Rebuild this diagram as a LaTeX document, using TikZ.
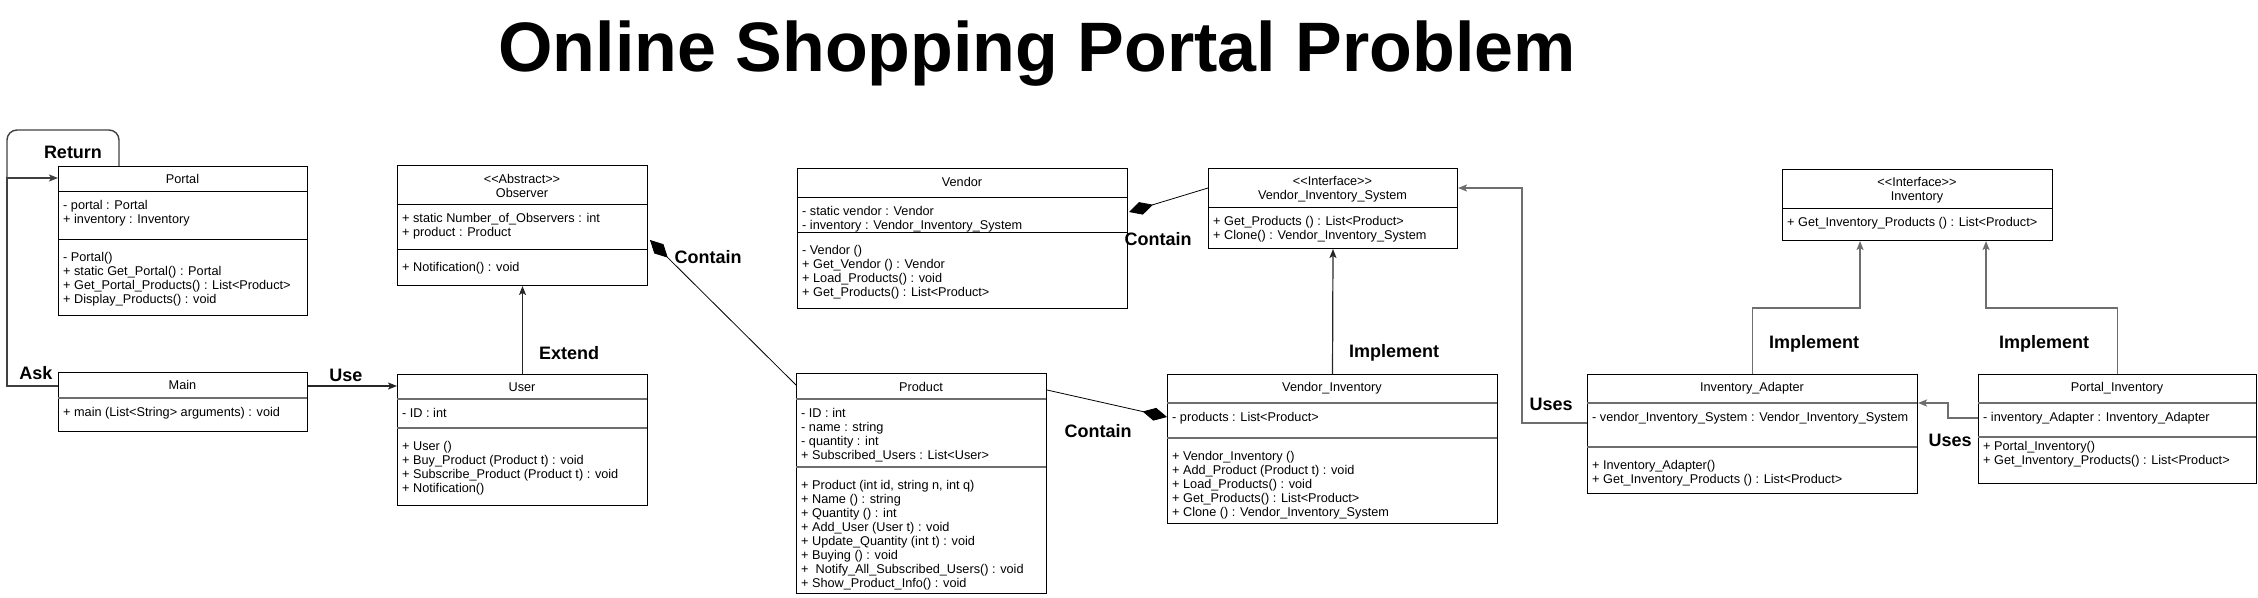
\documentclass[tikz,border=0pt]{standalone}
\usepackage{fontspec}
\setmainfont{Liberation Sans}
\usetikzlibrary{arrows.meta}
\definecolor{lgrey}{HTML}{6E6E6E}
\tikzset{
  box/.style={draw=black, line width=1pt, inner sep=0pt, anchor=north west},
  sepA/.style={draw=black, line width=1pt},
  sepB/.style={draw=lgrey, line width=1.8pt},
  hdr/.style={inner sep=0pt, align=center, font=\fontsize{12.7}{14}\selectfont},
  cmp/.style={inner sep=0pt, align=left, anchor=north west, font=\fontsize{12.7}{14}\selectfont},
  lbl/.style={inner sep=0pt, font=\bfseries\fontsize{18}{20}\selectfont},
  conn/.style={draw=black!85, line width=1.2pt, -{Stealth[length=9pt,width=7pt,inset=2pt]}},
  gconn/.style={draw=lgrey, line width=1.8pt, -{Stealth[length=9pt,width=7pt,inset=2pt]}},
  askline/.style={draw=black!75, line width=1.4pt},
  contain/.style={draw=black, line width=0.8pt, -{Diamond[length=25pt,width=13pt]}},
}
\newcommand{\UmlBox}[5]{\node[box, minimum width={#4-#2}, minimum height={#5-#3}] (#1) at (#2,#3) {};}
\begin{document}
\begin{tikzpicture}[x=1pt,y=-1pt]
\useasboundingbox (0,0) rectangle (2258,597);

% title
\node[inner sep=0pt, anchor=base, font=\bfseries\fontsize{70}{80}\selectfont] (title) at (1037,71) {Online Shopping Portal Problem};

% Portal
\UmlBox{portal}{58}{166}{307}{315}
\draw[sepA] (58,191) -- (307,191);
\draw[sepA] (58,239) -- (307,239);
\node[hdr] (portal-h) at (182.5,178.5) {Portal};
\node[cmp] (portal-a) at (63,199.7) {\strut- portal : Portal\\+ inventory : Inventory};
\node[cmp] (portal-m) at (63,251.7) {\strut- Portal()\\+ static Get\_Portal() : Portal\\+ Get\_Portal\_Products() : List<Product>\\+ Display\_Products() : void};

% Main
\UmlBox{main}{58}{372}{307}{431}
\draw[sepB] (58,398) -- (307,398);
\node[hdr] (main-h) at (182.5,385) {Main};
\node[cmp] (main-a) at (63,406.7) {\strut+ main (List<String> arguments) : void};

% Observer
\UmlBox{observer}{397}{165}{647}{285}
\draw[sepA] (397,204) -- (647,204);
\draw[sepA] (397,249) -- (647,249);
\node[hdr] (observer-h) at (522,185.5) {\strut<{}<Abstract>{}>\\Observer};
\node[cmp] (observer-a) at (402,212.7) {\strut+ static Number\_of\_Observers : int\\+ product : Product};
\node[cmp] (observer-m) at (402,261.7) {\strut+ Notification() : void};

% User
\UmlBox{user}{397}{374}{647}{505}
\draw[sepB] (397,399) -- (647,399);
\draw[sepB] (397,428) -- (647,428);
\node[hdr] (user-h) at (522,387) {User};
\node[cmp] (user-a) at (402,407.7) {\strut- ID : int};
\node[cmp] (user-m) at (402,440.7) {\strut+ User ()\\+ Buy\_Product (Product t) : void\\+ Subscribe\_Product (Product t) : void\\+ Notification()};

% Vendor
\UmlBox{vendor}{797}{168}{1127}{308}
\draw[sepA] (797,197) -- (1127,197);
\draw[sepA] (797,232) -- (1127,232);
\node[hdr] (vendor-h) at (962,182) {Vendor};
\node[cmp] (vendor-a) at (802,205.7) {\strut- static vendor : Vendor\\- inventory : Vendor\_Inventory\_System};
\node[cmp] (vendor-m) at (802,244.7) {\strut- Vendor ()\\+ Get\_Vendor () : Vendor\\+ Load\_Products() : void\\+ Get\_Products() : List<Product>};

% Product
\UmlBox{product}{796}{373}{1046}{593}
\draw[sepB] (796,399) -- (1046,399);
\draw[sepB] (796,467) -- (1046,467);
\node[hdr] (product-h) at (921,386.5) {Product};
\node[cmp] (product-a) at (801,407.7) {\strut- ID : int\\- name : string\\- quantity : int\\+ Subscribed\_Users : List<User>};
\node[cmp] (product-m) at (801,479.7) {\strut+ Product (int id, string n, int q)\\+ Name () : string\\+ Quantity () : int\\+ Add\_User (User t) : void\\+ Update\_Quantity (int t) : void\\+ Buying () : void\\+\ \ Notify\_All\_Subscribed\_Users() : void\\+ Show\_Product\_Info() : void};

% Vendor_Inventory_System
\UmlBox{vis}{1208}{168}{1457}{248}
\draw[sepA] (1208,207) -- (1457,207);
\node[hdr] (vis-h) at (1332.5,188.5) {\strut<{}<Interface>{}>\\Vendor\_Inventory\_System};
\node[cmp] (vis-a) at (1213,215.7) {\strut+ Get\_Products () : List<Product>\\+ Clone() : Vendor\_Inventory\_System};

% Vendor_Inventory
\UmlBox{vi}{1167}{374}{1497}{523}
\draw[sepB] (1167,403) -- (1497,403);
\draw[sepB] (1167,438) -- (1497,438);
\node[hdr] (vi-h) at (1332,388) {Vendor\_Inventory};
\node[cmp] (vi-a) at (1172,411.7) {\strut- products : List<Product>};
\node[cmp] (vi-m) at (1172,450.7) {\strut+ Vendor\_Inventory ()\\+ Add\_Product (Product t) : void\\+ Load\_Products() : void\\+ Get\_Products() : List<Product>\\+ Clone () : Vendor\_Inventory\_System};

% Inventory_Adapter
\UmlBox{ia}{1587}{374}{1917}{493}
\draw[sepB] (1587,403) -- (1917,403);
\draw[sepB] (1587,447) -- (1917,447);
\node[hdr] (ia-h) at (1752,388.5) {Inventory\_Adapter};
\node[cmp] (ia-a) at (1592,411.7) {\strut- vendor\_Inventory\_System : Vendor\_Inventory\_System};
\node[cmp] (ia-m) at (1592,459.7) {\strut+ Inventory\_Adapter()\\+ Get\_Inventory\_Products () : List<Product>};

% Inventory
\UmlBox{inventory}{1782}{169}{2052}{240}
\draw[sepA] (1782,208) -- (2052,208);
\node[hdr] (inventory-h) at (1917,190) {\strut<{}<Interface>{}>\\Inventory};
\node[cmp] (inventory-a) at (1787,216.7) {\strut+ Get\_Inventory\_Products () : List<Product>};

% Portal_Inventory
\UmlBox{pi}{1978}{374}{2256}{483}
\draw[sepB] (1978,403) -- (2256,403);
\draw[sepB] (1978,437) -- (2256,437);
\node[hdr] (pi-h) at (2117,388.5) {Portal\_Inventory};
\node[cmp] (pi-a) at (1983,411.7) {\strut- inventory\_Adapter : Inventory\_Adapter};
\node[cmp] (pi-m) at (1983,440.7) {\strut+ Portal\_Inventory()\\+ Get\_Inventory\_Products() : List<Product>};

% connectors
\coordinate (retEnd) at (7,179);
\draw[askline, rounded corners=10pt] ([xshift=61pt]portal.north west) |- (7,130) -- (retEnd);
\draw[askline, -{Stealth[length=9pt,width=7pt,inset=2pt]}] ([yshift=-14pt]main.north west) -- ++(-51,0) |- ([yshift=-12pt]portal.north west);
\draw[conn] ([yshift=-14pt]main.north east) -- ([yshift=-12pt]user.north west);
\draw[conn] (user.north) -- (observer.south);
\draw[contain] ([yshift=-12pt]product.north west) -- ([xshift=2pt,yshift=-75pt]observer.north east);
\draw[contain] ([yshift=-20pt]vis.north west) -- ([xshift=1pt,yshift=-44pt]vendor.north east);
\draw[contain] ([yshift=-17pt]product.north east) -- ([yshift=-43pt]vi.north west);
\draw[conn] (vi.north) -- (vis.south);
\draw[gconn] ([yshift=-49pt]ia.north west) -- ++(-65,0) |- ([yshift=-20pt]vis.north east);
\draw[gconn] (ia.north) -- ++(0,-66) -| ([xshift=78pt]inventory.south west);
\draw[gconn] (pi.north) -- ++(0,-66) -| ([xshift=-67pt]inventory.south east);
\draw[gconn] ([yshift=-44pt]pi.north west) -- ++(-30,0) |- ([yshift=-29pt]ia.north east);

% labels
\node[lbl] (l-return) at (73,152) {Return};
\node[lbl] (l-ask) at (36,373) {Ask};
\node[lbl] (l-use) at (346,375) {Use};
\node[lbl] (l-extend) at (569,353) {Extend};
\node[lbl] (l-contain1) at (708,257) {Contain};
\node[lbl] (l-contain2) at (1158,239) {Contain};
\node[lbl] (l-contain3) at (1098,431) {Contain};
\node[lbl] (l-impl1) at (1394,353) {Implement};
\node[lbl] (l-uses1) at (1551,404) {Uses};
\node[lbl] (l-impl2) at (1814,344) {Implement};
\node[lbl] (l-impl3) at (2044,344) {Implement};
\node[lbl] (l-uses2) at (1950,440) {Uses};
\end{tikzpicture}
\end{document}
